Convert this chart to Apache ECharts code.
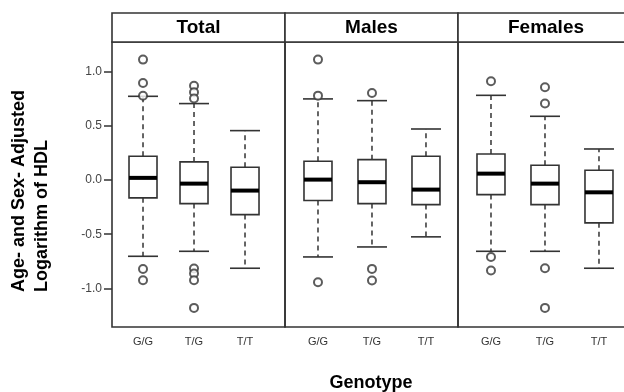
<!DOCTYPE html>
<html>
<head>
<meta charset="utf-8">
<script src="https://cdn.jsdelivr.net/npm/echarts@6/dist/echarts.min.js"></script>
<style>
  html, body { margin: 0; padding: 0; background: #fff; }
  #chart { width: 624px; height: 392px; }
</style>
</head>
<body>
<div id="chart"></div>
<script>
// 分组与基因型
const panels = ['Total', 'Males', 'Females'];
const genotypes = ['G/G', 'T/G', 'T/T'];
const yTicks = [-1.0, -0.5, 0.0, 0.5, 1.0];

// 箱线 [下须, Q1, 中位数, Q3, 上须]
const totalBox = [
  [-0.703, -0.165, 0.019, 0.218, 0.770],
  [-0.657, -0.218, -0.034, 0.166, 0.703],
  [-0.813, -0.319, -0.098, 0.117, 0.454]
];
const malesBox = [
  [-0.709, -0.190, 0.003, 0.172, 0.746],
  [-0.617, -0.218, -0.021, 0.187, 0.730],
  [-0.524, -0.227, -0.089, 0.218, 0.469]
];
const femalesBox = [
  [-0.657, -0.135, 0.058, 0.239, 0.779],
  [-0.657, -0.227, -0.034, 0.135, 0.586],
  [-0.813, -0.395, -0.114, 0.089, 0.285]
];

// 离群点 [基因型序号, 值]
const totalOut = [
  [0, 1.108], [0, 0.893], [0, 0.775], [0, -0.820], [0, -0.923],
  [1, 0.868], [1, 0.807], [1, 0.749], [1, -0.816], [1, -0.862], [1, -0.923], [1, -1.178]
];
const malesOut = [
  [0, 1.108], [0, 0.776], [0, -0.942],
  [1, 0.801], [1, -0.819], [1, -0.926]
];
const femalesOut = [
  [0, 0.908], [0, -0.709], [0, -0.834],
  [1, 0.853], [1, 0.703], [1, -0.813], [1, -1.178]
];

const boxes = [totalBox, malesBox, femalesBox];
const outs = [totalOut, malesOut, femalesOut];

// 版面
const panelLeft = [112, 285, 458];
const panelW = 173;
const stripTop = 13;
const plotTop = 42;
const plotH = 285;
const xMin = [0.392, 0.389, 0.389];
const xMax = [3.784, 3.593, 3.593];
const lineColor = '#333';

const chart = echarts.init(document.getElementById('chart'));

function renderBox(params, api) {
  const x = api.value(0);
  const pLow = api.coord([x, api.value(1)]);
  const pQ1 = api.coord([x, api.value(2)]);
  const pMed = api.coord([x, api.value(3)]);
  const pQ3 = api.coord([x, api.value(4)]);
  const pHigh = api.coord([x, api.value(5)]);
  const cx = pMed[0];
  const bw = 14, cw = 15;
  const dash = { stroke: lineColor, lineWidth: 1.5, lineDash: [5, 4] };
  const solid = { stroke: lineColor, lineWidth: 1.6 };
  return {
    type: 'group',
    children: [
      { type: 'line', shape: { x1: cx, y1: pQ3[1], x2: cx, y2: pHigh[1] }, style: dash },
      { type: 'line', shape: { x1: cx, y1: pQ1[1], x2: cx, y2: pLow[1] }, style: dash },
      { type: 'line', shape: { x1: cx - cw, y1: pHigh[1], x2: cx + cw, y2: pHigh[1] }, style: solid },
      { type: 'line', shape: { x1: cx - cw, y1: pLow[1], x2: cx + cw, y2: pLow[1] }, style: solid },
      { type: 'rect', shape: { x: cx - bw, y: pQ3[1], width: bw * 2, height: pQ1[1] - pQ3[1] },
        style: { fill: '#fff', stroke: lineColor, lineWidth: 1.6 } },
      { type: 'line', shape: { x1: cx - bw, y1: pMed[1], x2: cx + bw, y2: pMed[1] },
        style: { stroke: '#000', lineWidth: 4 } }
    ]
  };
}

const grids = [], xAxes = [], yAxes = [], series = [], graphics = [];
panels.forEach(function (name, i) {
  grids.push({
    left: panelLeft[i], top: plotTop, width: panelW, height: plotH,
    outerBoundsMode: 'none', containLabel: false,
    show: true, borderColor: lineColor, borderWidth: 1.6, backgroundColor: 'transparent'
  });
  xAxes.push({
    type: 'value', gridIndex: i, min: xMin[i], max: xMax[i],
    axisLine: { show: false }, axisTick: { show: false }, splitLine: { show: false },
    axisLabel: {
      customValues: [1, 2, 3],
      formatter: function (v) { return genotypes[Math.round(v) - 1]; },
      color: '#333', fontSize: 11, fontFamily: 'Liberation Sans', margin: 9
    }
  });
  yAxes.push({
    type: 'value', gridIndex: i, min: -1.354, max: 1.27,
    axisLine: { show: false }, splitLine: { show: false },
    axisTick: { show: i === 0, length: 8, customValues: yTicks, lineStyle: { color: lineColor, width: 1.5 } },
    axisLabel: {
      show: i === 0, customValues: yTicks,
      formatter: function (v) { return v.toFixed(1); },
      color: '#444', fontSize: 12, fontFamily: 'Liberation Sans', margin: 10
    }
  });
  series.push({
    type: 'custom', xAxisIndex: i, yAxisIndex: i,
    renderItem: renderBox,
    data: boxes[i].map(function (b, k) { return [k + 1].concat(b); }),
    z: 2
  });
  series.push({
    type: 'scatter', xAxisIndex: i, yAxisIndex: i,
    symbol: 'emptyCircle', symbolSize: 8,
    itemStyle: { color: lineColor, borderWidth: 1.5 },
    data: outs[i].map(function (o) { return [o[0] + 1, o[1]]; }),
    z: 3
  });
  graphics.push({
    type: 'rect',
    shape: { x: panelLeft[i], y: stripTop, width: panelW, height: plotTop - stripTop },
    style: { fill: '#fff', stroke: lineColor, lineWidth: 1.6 }
  });
});

const stripCx = [198.5, 371.5, 546];
panels.forEach(function (name, i) {
  graphics.push({
    type: 'text', x: stripCx[i], y: 28, z: 10,
    style: {
      text: name, align: 'center', verticalAlign: 'middle',
      font: 'bold 19px "Liberation Sans", Arial, sans-serif', fill: '#000'
    }
  });
});
graphics.push({
  type: 'text', x: 31, y: 292, rotation: Math.PI / 2,
  style: {
    text: 'Age- and Sex- Adjusted\nLogarithm of HDL', align: 'left', verticalAlign: 'middle',
    font: 'bold 18px "Liberation Sans", Arial, sans-serif', lineHeight: 23, fill: '#000'
  }
});
graphics.push({
  type: 'text', x: 371, y: 383,
  style: {
    text: 'Genotype', align: 'center', verticalAlign: 'middle',
    font: 'bold 18px "Liberation Sans", Arial, sans-serif', fill: '#000'
  }
});

chart.setOption({
  animation: false,
  backgroundColor: '#fff',
  grid: grids,
  xAxis: xAxes,
  yAxis: yAxes,
  series: series,
  graphic: graphics
});
</script>
</body>
</html>
